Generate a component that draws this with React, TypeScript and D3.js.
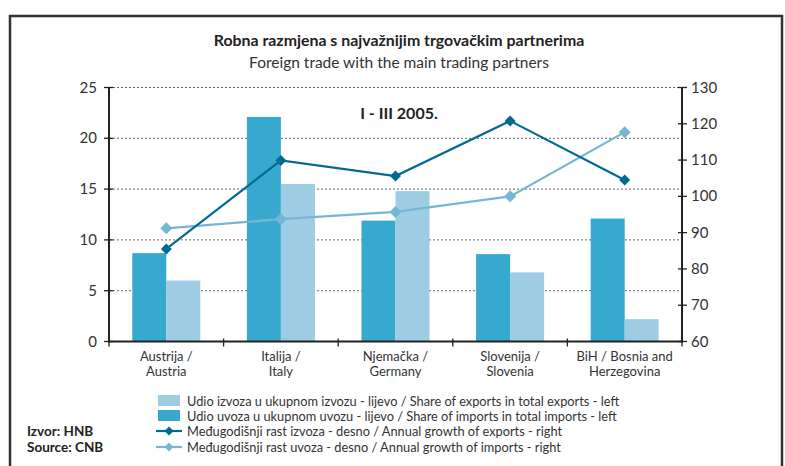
import React from "react";
import * as d3 from "d3";

const categoriesTop = ["Austrija /", "Italija /", "Njemačka /", "Slovenija /", "BiH / Bosnia and"];
const categoriesBottom = ["Austria", "Italy", "Germany", "Slovenia", "Herzegovina"];
const importShare = [8.7, 22.1, 11.9, 8.6, 12.1];
const exportShare = [6.0, 15.5, 14.8, 6.8, 2.2];
const exportGrowth = [85.5, 109.9, 105.6, 120.8, 104.5];
const importGrowth = [91.2, 93.7, 95.7, 100.0, 117.7];
const leftTicks = [0, 5, 10, 15, 20, 25];
const rightTicks = [60, 70, 80, 90, 100, 110, 120, 130];
const legendLabels = [
  "Udio izvoza u ukupnom izvozu - lijevo / Share of exports in total exports - left",
  "Udio uvoza u ukupnom uvozu - lijevo / Share of imports in total imports - left",
  "Međugodišnji rast izvoza - desno / Annual growth of exports - right",
  "Međugodišnji rast uvoza - desno / Annual growth of imports - right",
];

const C_IMP = "#37a8ce";
const C_EXP = "#9ecde3";
const C_LEXP = "#006a91";
const C_LIMP = "#76b6d2";
const FONT = "Lato, 'Open Sans', sans-serif";

export default function App() {
  const x0 = 109, x1 = 682, yTop = 87.5, yBot = 341.5;
  const idx = categoriesTop.map((_, i) => i);
  const xb = d3.scaleBand<number>().domain(idx).range([x0, x1]);
  const yl = d3.scaleLinear().domain([0, 25]).range([yBot, yTop]);
  const yr = d3.scaleLinear().domain([60, 130]).range([yBot, yTop]);
  const bw = 34;
  const cx = (i: number) => (xb(i) as number) + xb.bandwidth() / 2;
  const lineGen = (vals: number[]) =>
    d3.line<number>().x((_, i) => cx(i)).y((v) => yr(v))(vals) as string;
  const diamond = (x: number, y: number, r: number) =>
    `M${x},${y - r}L${x + r},${y}L${x},${y + r}L${x - r},${y}Z`;
  const boundaries = d3.range(0, categoriesTop.length + 1).map((i) => x0 + i * xb.bandwidth());

  const legY = [401, 416, 431, 447];

  return (
    <svg width={785} height={466} style={{ position: "absolute", left: 0, top: 0, background: "#fff" }} fontFamily={FONT}>
      <rect x={10} y={16} width={772} height={460} fill="#fff" stroke="#333" strokeWidth={2.5} />
      <text x={399} y={46} textAnchor="middle" fontSize={15.9} fontWeight="bold" fill="#222">
        Robna razmjena s najvažnijim trgovačkim partnerima
      </text>
      <text x={399} y={68} textAnchor="middle" fontSize={15.5} fill="#333">
        Foreign trade with the main trading partners
      </text>
      {/* gridlines */}
      {leftTicks.filter((t) => t > 0).map((t) => (
        <line key={"g" + t} x1={x0} x2={x1} y1={yl(t)} y2={yl(t)} stroke="#666" strokeWidth={1} strokeDasharray="2,2" />
      ))}
      <text x={399} y={119} textAnchor="middle" fontSize={16} fontWeight="bold" fill="#222">I - III 2005.</text>
      {/* bars */}
      {idx.map((i) => (
        <g key={"b" + i}>
          <rect x={cx(i) - bw} y={yl(importShare[i])} width={bw} height={yBot - yl(importShare[i])} fill={C_IMP} />
          <rect x={cx(i)} y={yl(exportShare[i])} width={bw} height={yBot - yl(exportShare[i])} fill={C_EXP} />
        </g>
      ))}
      {/* lines */}
      <path d={lineGen(importGrowth)} fill="none" stroke={C_LIMP} strokeWidth={2.2} />
      {importGrowth.map((v, i) => (
        <path key={"mi" + i} d={diamond(cx(i), yr(v), 6)} fill={C_LIMP} />
      ))}
      <path d={lineGen(exportGrowth)} fill="none" stroke={C_LEXP} strokeWidth={2.2} />
      {exportGrowth.map((v, i) => (
        <path key={"me" + i} d={diamond(cx(i), yr(v), 5.5)} fill={C_LEXP} />
      ))}
      {/* axes */}
      <line x1={x0} x2={x0} y1={yTop} y2={yBot + 1} stroke="#222" strokeWidth={2} />
      <line x1={x1} x2={x1} y1={yTop} y2={yBot + 1} stroke="#222" strokeWidth={2} />
      <line x1={x0 - 1} x2={x1 + 1} y1={yBot} y2={yBot} stroke="#222" strokeWidth={2} />
      {leftTicks.map((t) => (
        <g key={"lt" + t}>
          <line x1={x0 - 5} x2={x0 + 4} y1={yl(t)} y2={yl(t)} stroke="#222" strokeWidth={1.3} />
          <text x={97} y={yl(t) + 5} textAnchor="end" fontSize={15} fill="#333">{t}</text>
        </g>
      ))}
      {rightTicks.map((t) => (
        <g key={"rt" + t}>
          <line x1={x1 - 4} x2={x1 + 5} y1={yr(t)} y2={yr(t)} stroke="#222" strokeWidth={1.3} />
          <text x={691} y={yr(t) + 5} textAnchor="start" fontSize={15} fill="#333">{t}</text>
        </g>
      ))}
      {boundaries.map((b, i) => (
        <line key={"bt" + i} x1={b} x2={b} y1={yBot - 3} y2={yBot + 5} stroke="#222" strokeWidth={1.3} />
      ))}
      {idx.map((i) => (
        <g key={"cl" + i}>
          <text x={cx(i)} y={361} textAnchor="middle" fontSize={13} fill="#333">{categoriesTop[i]}</text>
          <text x={cx(i)} y={376} textAnchor="middle" fontSize={13} fill="#333">{categoriesBottom[i]}</text>
        </g>
      ))}
      {/* legend */}
      <rect x={158} y={legY[0] - 6} width={22} height={11} fill={C_EXP} />
      <rect x={158} y={legY[1] - 6} width={22} height={11} fill={C_IMP} />
      <line x1={156} x2={182} y1={legY[2]} y2={legY[2]} stroke={C_LEXP} strokeWidth={2.2} />
      <path d={diamond(169, legY[2], 4.5)} fill={C_LEXP} />
      <line x1={156} x2={182} y1={legY[3]} y2={legY[3]} stroke={C_LIMP} strokeWidth={2.2} />
      <path d={diamond(169, legY[3], 4.5)} fill={C_LIMP} />
      {legendLabels.map((l, i) => (
        <text key={"ll" + i} x={187} y={legY[i] + 4.5} fontSize={12.8} fill="#333">{l}</text>
      ))}
      <text x={27} y={436} fontSize={13.5} fontWeight="bold" fill="#222">Izvor: HNB</text>
      <text x={27} y={452} fontSize={13.5} fontWeight="bold" fill="#222">Source: CNB</text>
    </svg>
  );
}
